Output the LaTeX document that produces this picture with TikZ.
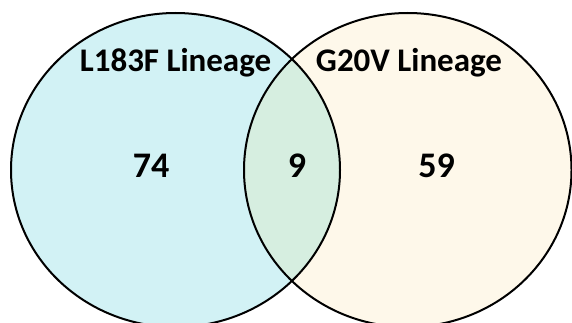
\documentclass[tikz,border=0pt]{standalone}
\usepackage{fontspec}
\setmainfont{Carlito}
\definecolor{leftfill}{RGB}{210,242,245}
\definecolor{rightfill}{RGB}{254,248,234}
\definecolor{midfill}{RGB}{214,238,224}
\tikzset{
  setline/.style={draw=black, line width=2pt},
  title/.style={font=\bfseries\fontsize{33}{36}\selectfont, inner sep=0pt, anchor=base},
  count/.style={font=\bfseries\fontsize{36}{39}\selectfont, inner sep=0pt, anchor=base}
}
\begin{document}
\begin{tikzpicture}[x=1pt,y=-1pt]
\useasboundingbox (0,0) rectangle (572,323);
\clip (0,0) rectangle (572,323);
\fill[leftfill] (175.5,170) ellipse [x radius=164.5, y radius=157];
\fill[rightfill] (407.75,170) ellipse [x radius=163.75, y radius=157];
\begin{scope}
  \clip (175.5,170) ellipse [x radius=164.5, y radius=157];
  \fill[midfill] (407.75,170) ellipse [x radius=163.75, y radius=157];
\end{scope}
\draw[setline] (175.5,170) ellipse [x radius=164.5, y radius=157];
\draw[setline] (407.75,170) ellipse [x radius=163.75, y radius=157];
\node[title] (ltitle) at (175.5,72) {L183F Lineage};
\node[title] (rtitle) at (409,72) {G20V Lineage};
\node[count] (lcount) at (151,177) {74};
\node[count] (mcount) at (297,177) {9};
\node[count] (rcount) at (436.5,177) {59};
\end{tikzpicture}
\end{document}
